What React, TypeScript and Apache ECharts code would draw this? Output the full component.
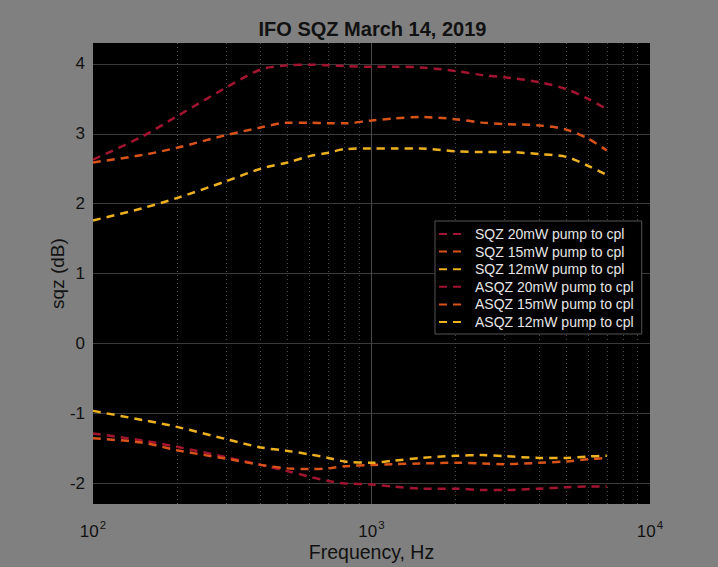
import React, { useEffect, useRef } from "react";
import * as echarts from "echarts";

const freq = [100, 150, 200, 300, 400, 500, 600, 700, 800, 1000, 1200, 1500, 2000, 2500, 3000, 4000, 5000, 6000, 7000];

const sqz20 = [-1.29, -1.39, -1.48, -1.63, -1.74, -1.83, -1.91, -1.97, -2.005, -2.02, -2.05, -2.08, -2.08, -2.1, -2.1, -2.08, -2.06, -2.05, -2.05];
const sqz15 = [-1.36, -1.42, -1.53, -1.65, -1.74, -1.79, -1.8, -1.79, -1.76, -1.74, -1.73, -1.72, -1.71, -1.72, -1.73, -1.71, -1.69, -1.66, -1.64];
const sqz12 = [-0.967, -1.096, -1.196, -1.37, -1.49, -1.54, -1.59, -1.64, -1.69, -1.71, -1.68, -1.64, -1.61, -1.6, -1.614, -1.64, -1.64, -1.62, -1.61];
const asqz20 = [2.63, 2.96, 3.25, 3.66, 3.92, 3.98, 3.99, 3.98, 3.97, 3.96, 3.96, 3.95, 3.9, 3.84, 3.81, 3.74, 3.64, 3.5, 3.35];
const asqz15 = [2.59, 2.695, 2.8, 2.98, 3.09, 3.16, 3.16, 3.15, 3.15, 3.19, 3.22, 3.24, 3.21, 3.16, 3.14, 3.12, 3.06, 2.93, 2.76];
const asqz12 = [1.76, 1.933, 2.08, 2.32, 2.5, 2.59, 2.68, 2.73, 2.78, 2.79, 2.79, 2.79, 2.75, 2.74, 2.74, 2.71, 2.67, 2.54, 2.41];

const seriesNames = [
  "SQZ 20mW pump to cpl",
  "SQZ 15mW pump to cpl",
  "SQZ 12mW pump to cpl",
  "ASQZ 20mW pump to cpl",
  "ASQZ 15mW pump to cpl",
  "ASQZ 12mW pump to cpl",
];
const seriesValues = [sqz20, sqz15, sqz12, asqz20, asqz15, asqz12];
const seriesColors = ["#A2142F", "#D95319", "#EDB120", "#A2142F", "#D95319", "#EDB120"];

const yGridValues = [-2, -1, 0, 1, 2, 3, 4];
const xMinorGrid = [200, 300, 400, 500, 600, 700, 800, 900, 2000, 3000, 4000, 5000, 6000, 7000, 8000, 9000];
const xMajorGrid = [1000];
const xTicks = [100, 1000, 10000];

const FONT = "'Liberation Sans', Arial, Helvetica, sans-serif";

export default function App() {
  const ref = useRef<HTMLDivElement>(null);
  useEffect(() => {
    if (!ref.current) return;
    const chart = echarts.init(ref.current, undefined, { renderer: "svg" });
    const series: any[] = seriesNames.map((name, i) => ({
      name,
      type: "line",
      data: freq.map((f, j) => [f, seriesValues[i][j]]),
      smooth: 0.3,
      showSymbol: false,
      symbol: "none",
      z: 5,
      lineStyle: { color: seriesColors[i], width: 2.5, type: [8, 6] },
      itemStyle: { color: seriesColors[i] },
    }));
    series.push({
      name: "__grid",
      type: "line",
      data: [],
      silent: true,
      z: 1,
      markLine: {
        silent: true,
        symbol: "none",
        z: 1,
        label: { show: false },
        animation: false,
        data: [
          ...yGridValues.map((v) => ({ yAxis: v, lineStyle: { color: "#3a3a3a", width: 1, type: "solid" } })),
          ...xMinorGrid.map((v) => ({ xAxis: v, lineStyle: { color: "#4a4a4a", width: 1, type: [1, 3] } })),
          ...xMajorGrid.map((v) => ({ xAxis: v, lineStyle: { color: "#4a4a4a", width: 1, type: "solid" } })),
        ],
      },
    });
    chart.setOption({
      animation: false,
      backgroundColor: "#808080",
      title: {
        text: "IFO SQZ March 14, 2019",
        left: 367.5,
        textAlign: "center",
        top: 14,
        textStyle: { fontFamily: FONT, fontSize: 20, fontWeight: "bold", color: "#111" },
      },
      grid: {
        left: 93,
        right: 68,
        top: 43,
        bottom: 62,
        show: true,
        backgroundColor: "#000",
        borderWidth: 0,
      },
      legend: {
        data: seriesNames,
        orient: "vertical",
        left: 435,
        top: 221,
        z: 20,
        padding: [6, 8, 5, 3],
        itemWidth: 25,
        itemHeight: 14,
        itemGap: 3.6,
        backgroundColor: "#000",
        borderColor: "#555",
        borderWidth: 1,
        borderRadius: 0,
        itemStyle: { opacity: 0 },
        textStyle: { fontFamily: FONT, fontSize: 14, color: "#e6e6e6", padding: [0, 0, 0, 6] },
      },
      xAxis: {
        type: "log",
        logBase: 10,
        min: 100,
        max: 10000,
        name: "Frequency, Hz",
        nameLocation: "middle",
        nameGap: 38,
        nameMoveOverlap: false,
        nameTextStyle: { fontFamily: FONT, fontSize: 19.5, color: "#111" },
        axisLine: { show: false },
        axisTick: { show: false },
        splitLine: { show: false },
        axisLabel: {
          margin: 15,
          color: "#111",
          fontFamily: FONT,
          formatter: (v: number) => {
            const e = Math.round(Math.log10(v));
            return xTicks.includes(v) ? `{b|10}{s|${e}}` : "";
          },
          rich: {
            b: { fontFamily: FONT, fontSize: 17, color: "#111" },
            s: { fontFamily: FONT, fontSize: 11.5, color: "#111", padding: [0, 0, 12, 1] },
          },
        },
      },
      yAxis: {
        type: "value",
        min: -2.3,
        max: 4.3,
        name: "sqz (dB)",
        nameLocation: "middle",
        nameGap: 26,
        nameMoveOverlap: false,
        nameTextStyle: { fontFamily: FONT, fontSize: 19, color: "#111" },
        axisLine: { show: false },
        axisTick: { show: false },
        splitLine: { show: false },
        axisLabel: {
          margin: 8,
          color: "#111",
          fontFamily: FONT,
          fontSize: 17,
          formatter: (v: number) => (Math.abs(v - Math.round(v)) < 1e-6 ? String(Math.round(v)) : ""),
        },
      },
      series,
    });
    return () => chart.dispose();
  }, []);
  return <div ref={ref} style={{ width: 718, height: 567, position: "fixed", left: 0, top: 0 }} />;
}
